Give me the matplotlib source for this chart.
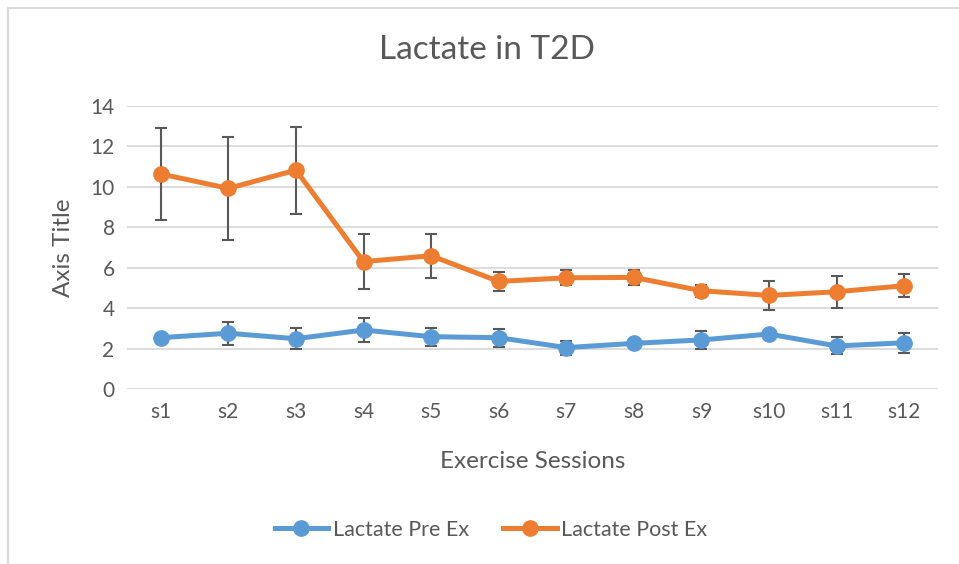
import matplotlib.pyplot as plt
from matplotlib.lines import Line2D

sessions = ['s1', 's2', 's3', 's4', 's5', 's6', 's7', 's8', 's9', 's10', 's11', 's12']
pre_ex = [2.55, 2.77, 2.50, 2.93, 2.60, 2.55, 2.06, 2.27, 2.44, 2.73, 2.14, 2.30]
pre_err = [0.15, 0.57, 0.52, 0.60, 0.44, 0.45, 0.35, 0.15, 0.44, 0.15, 0.42, 0.50]
post_ex = [10.64, 9.93, 10.83, 6.31, 6.60, 5.33, 5.51, 5.53, 4.87, 4.64, 4.82, 5.12]
post_err = [2.28, 2.55, 2.15, 1.37, 1.08, 0.45, 0.38, 0.38, 0.30, 0.72, 0.78, 0.58]

BLUE = '#5B9BD5'
ORANGE = '#ED7D31'
TEXT = '#595959'

plt.rcParams['font.family'] = ['Lato', 'DejaVu Sans']

fig = plt.figure(figsize=(9.59, 5.64), dpi=100)
ax = fig.add_axes([127 / 959, 1 - 389.3 / 564, 811 / 959, 283.3 / 564])

x = list(range(len(sessions)))
for vals, errs, color, label in [(pre_ex, pre_err, BLUE, 'Lactate Pre Ex'),
                                 (post_ex, post_err, ORANGE, 'Lactate Post Ex')]:
    ax.errorbar(x, vals, yerr=errs, fmt='none', ecolor=TEXT, elinewidth=1.5,
                capsize=4, capthick=1.5, zorder=2)
    ax.plot(x, vals, color=color, linewidth=3.6, marker='o', markersize=11,
            label=label, zorder=3)

ax.set_xlim(-0.5, len(sessions) - 0.5)
ax.set_ylim(0, 14)
ax.set_yticks(range(0, 15, 2))
ax.set_xticks(x)
ax.set_xticklabels(sessions)
ax.tick_params(length=0, labelsize=15, colors=TEXT, pad=9)
ax.grid(axis='y', color='#d9d9d9', linewidth=1.3)
ax.set_axisbelow(True)
for s in ax.spines.values():
    s.set_visible(False)

ax.set_xlabel('Exercise Sessions', fontsize=17.5, color=TEXT, labelpad=21)
ax.set_ylabel('Axis Title', fontsize=17.5, color=TEXT, labelpad=12)
fig.text(487 / 959, 1 - 50 / 564, 'Lactate in T2D', fontsize=24, color=TEXT,
         ha='center', va='center')

ax.legend(loc='center', bbox_to_anchor=(491 / 959, 1 - 530 / 564),
          bbox_transform=fig.transFigure, ncol=2, frameon=False,
          fontsize=15.5, labelcolor=TEXT, handlelength=2.5, columnspacing=1.6,
          handletextpad=0.2)

fig.add_artist(Line2D([7.5 / 959, 1], [1 - 7.5 / 564] * 2, color='#d9d9d9',
                      linewidth=1.5, transform=fig.transFigure))
fig.add_artist(Line2D([7.5 / 959] * 2, [0, 1 - 7.5 / 564], color='#d9d9d9',
                      linewidth=1.5, transform=fig.transFigure))

fig.savefig('out.png', dpi=100)
